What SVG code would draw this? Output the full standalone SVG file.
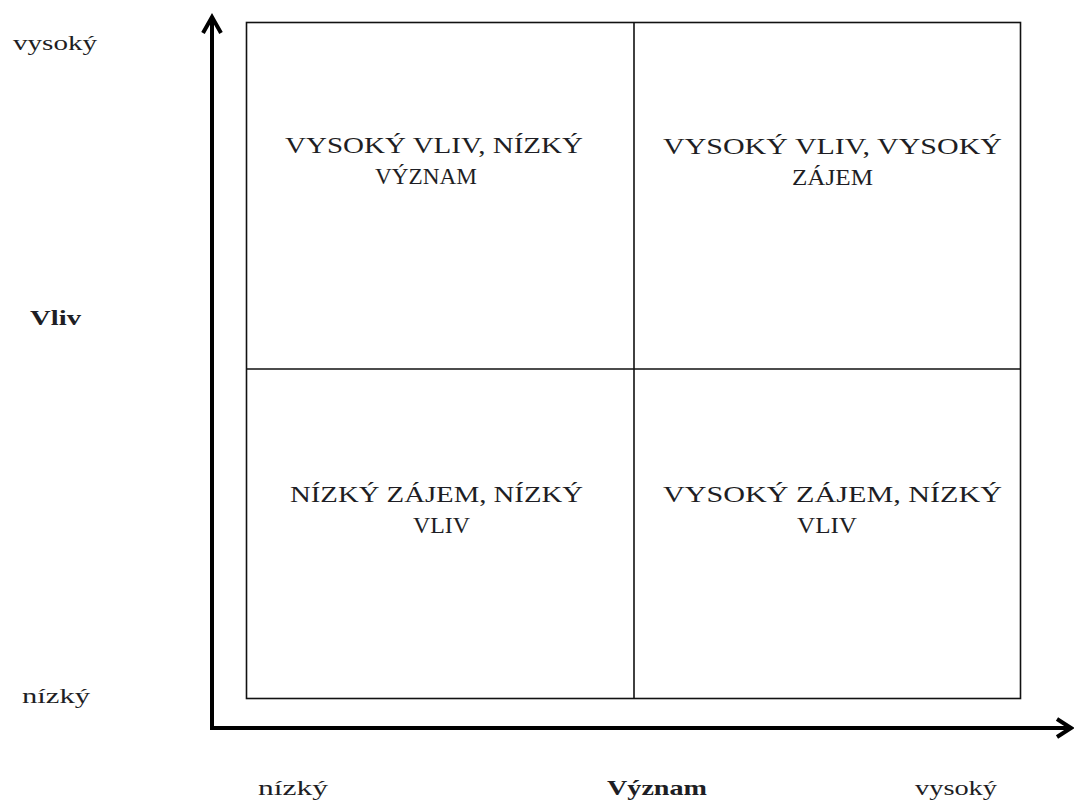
<svg xmlns="http://www.w3.org/2000/svg" width="1074" height="800" viewBox="0 0 1074 800">
<style>
  .t { font-family: "Liberation Serif", "DejaVu Serif", serif; font-size: 23px; fill: #1e1e24; }
  .a { font-family: "Liberation Serif", "DejaVu Serif", serif; font-size: 22px; fill: #1e1e24; }
  .b { font-weight: bold; }
  .grid { fill: none; stroke: #111; stroke-width: 1.6; }
  .axis { fill: none; stroke: #000; stroke-width: 4; }
  .head { fill: none; stroke: #000; stroke-width: 4; stroke-linejoin: miter; stroke-linecap: butt; }
</style>
<rect width="1074" height="800" fill="#fff"/>
<g id="connectors">
  <line class="axis" x1="212" y1="18" x2="212" y2="730"/>
  <line class="axis" x1="210" y1="728" x2="1070" y2="728"/>
  <polyline class="head" points="203,33 212,17 221,33"/>
  <polyline class="head" points="1057,719 1071,728 1057,737"/>
</g>
<g id="grid">
  <rect class="grid" x="246.5" y="22.5" width="774" height="676"/>
  <line class="grid" x1="634" y1="22.5" x2="634" y2="698.5"/>
  <line class="grid" x1="246.5" y1="369" x2="1020.5" y2="369"/>
</g>
<g id="q-top-left">
  <text class="t" x="285" y="153" textLength="298" lengthAdjust="spacingAndGlyphs">VYSOKÝ VLIV, NÍZKÝ</text>
  <text class="t" x="375" y="184" textLength="102" lengthAdjust="spacingAndGlyphs">VÝZNAM</text>
</g>
<g id="q-top-right">
  <text class="t" x="663" y="154" textLength="339" lengthAdjust="spacingAndGlyphs">VYSOKÝ VLIV, VYSOKÝ</text>
  <text class="t" x="792" y="185" textLength="81" lengthAdjust="spacingAndGlyphs">ZÁJEM</text>
</g>
<g id="q-bottom-left">
  <text class="t" x="290" y="502" textLength="293" lengthAdjust="spacingAndGlyphs">NÍZKÝ ZÁJEM, NÍZKÝ</text>
  <text class="t" x="413" y="533" textLength="57" lengthAdjust="spacingAndGlyphs">VLIV</text>
</g>
<g id="q-bottom-right">
  <text class="t" x="663" y="502" textLength="339" lengthAdjust="spacingAndGlyphs">VYSOKÝ ZÁJEM, NÍZKÝ</text>
  <text class="t" x="797" y="533" textLength="60" lengthAdjust="spacingAndGlyphs">VLIV</text>
</g>
<g id="y-axis-labels">
  <text class="a" x="13" y="50" textLength="84" lengthAdjust="spacingAndGlyphs">vysoký</text>
  <text class="a b" x="30" y="325" textLength="51" lengthAdjust="spacingAndGlyphs">Vliv</text>
  <text class="a" x="22" y="703" textLength="68" lengthAdjust="spacingAndGlyphs">nízký</text>
</g>
<g id="x-axis-labels">
  <text class="a" x="258" y="795" textLength="70" lengthAdjust="spacingAndGlyphs">nízký</text>
  <text class="a b" x="607" y="795" textLength="100" lengthAdjust="spacingAndGlyphs">Význam</text>
  <text class="a" x="915" y="795" textLength="82" lengthAdjust="spacingAndGlyphs">vysoký</text>
</g>
</svg>
